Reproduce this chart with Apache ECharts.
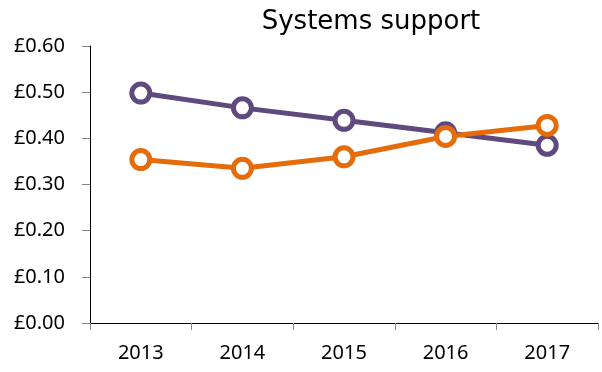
<!DOCTYPE html>
<html>
<head>
<meta charset="utf-8">
<script src="https://cdn.jsdelivr.net/npm/echarts@6/dist/echarts.min.js"></script>
<style>html,body{margin:0;padding:0;background:#fff}#c{width:602px;height:372px}</style>
</head>
<body>
<div id="c"></div>
<script>
var title = 'Systems support';
var categories = ['2013', '2014', '2015', '2016', '2017'];
var purpleValues = [0.498, 0.466, 0.439, 0.412, 0.385];
var orangeValues = [0.354, 0.335, 0.360, 0.404, 0.428];
var yTicks = [0, 0.1, 0.2, 0.3, 0.4, 0.5, 0.6];

var chart = echarts.init(document.getElementById('c'), null, {renderer: 'canvas'});
var tickFont = 'Noto Sans';
function lineSeries(name, data, color) {
  return {
    name: name, type: 'line', data: data,
    symbol: 'circle', symbolSize: 18,
    lineStyle: {color: color, width: 5},
    itemStyle: {color: '#fff', borderColor: color, borderWidth: 5},
    emphasis: {disabled: true},
    animation: false
  };
}
chart.setOption({
  animation: false,
  title: {
    text: title, left: 366, top: 4, textAlign: 'center',
    textStyle: {fontFamily: 'DejaVu Sans', fontWeight: 'normal', fontSize: 26, color: '#000'}
  },
  grid: {left: 90, right: 4, top: 46, bottom: 49, containLabel: false},
  xAxis: {
    type: 'category', data: categories, boundaryGap: true,
    axisLine: {lineStyle: {color: '#000', width: 1}},
    axisTick: {show: true, length: 7, lineStyle: {color: '#888'}},
    axisLabel: {margin: 20, fontFamily: tickFont, fontSize: 20, color: '#000'},
    splitLine: {show: false}
  },
  yAxis: {
    type: 'value', min: yTicks[0], max: yTicks[yTicks.length - 1], interval: 0.1,
    axisLine: {show: true, lineStyle: {color: '#000', width: 1}},
    axisTick: {show: true, length: 8, lineStyle: {color: '#888'}},
    axisLabel: {margin: 25, fontFamily: tickFont, fontSize: 20, color: '#000',
      formatter: function (v) { return '£' + v.toFixed(2); }},
    splitLine: {show: false}
  },
  series: [
    lineSeries('Series 1', purpleValues, '#5F4A7E'),
    lineSeries('Series 2', orangeValues, '#E46C0A')
  ]
});
</script>
</body>
</html>
